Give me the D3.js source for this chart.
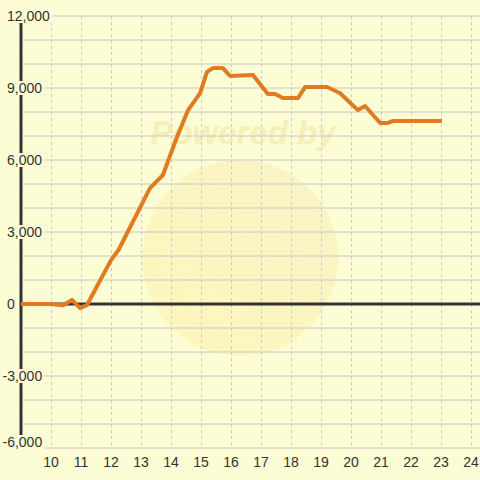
<!DOCTYPE html>
<html><head><meta charset="utf-8">
<script src="https://cdn.jsdelivr.net/npm/d3@7"></script>
<style>html,body{margin:0;padding:0;background:#fdfdd5;}svg{display:block;}</style>
</head><body>
<script>
const xValues = [9.0, 9.97, 10.4, 10.7, 10.97, 11.2, 12.0, 12.25, 13.3, 13.73, 14.2, 14.57, 14.97, 15.2, 15.4, 15.73, 15.97, 16.73, 17.23, 17.47, 17.73, 18.23, 18.47, 19.2, 19.63, 20.23, 20.47, 20.97, 21.2, 21.4, 23.03];
const yValues = [0, 0, -50, 170, -170, -40, 1830, 2250, 4830, 5375, 6960, 8080, 8790, 9670, 9830, 9830, 9500, 9540, 8750, 8750, 8580, 8580, 9040, 9040, 8790, 8080, 8250, 7540, 7540, 7625, 7625];
const xTicks = [10, 11, 12, 13, 14, 15, 16, 17, 18, 19, 20, 21, 22, 23, 24];
const yTicks = [-6000, -3000, 0, 3000, 6000, 9000, 12000];
const yGrid = d3.range(-6000, 12001, 1000);

const W = 480, H = 480;
const BG = "#fdfdd5";
const svg = d3.select("body").append("svg").attr("width", W).attr("height", H);
svg.append("rect").attr("width", W).attr("height", H).attr("fill", BG);

const x = d3.scaleLinear().domain([9, 24.3]).range([21, 480]);
const y = d3.scaleLinear().domain([-6000, 12000]).range([448, 16]);

// watermark
const defs = svg.append("defs");
const g = defs.append("linearGradient").attr("id", "wm").attr("x1", "0").attr("y1", "1").attr("x2", "1").attr("y2", "0");
g.append("stop").attr("offset", "0").attr("stop-color", "#fcee96");
g.append("stop").attr("offset", "1").attr("stop-color", "#f3e4ae");
svg.append("circle").attr("cx", 240).attr("cy", 258).attr("r", 98).attr("fill", "url(#wm)").attr("opacity", 0.4);
svg.append("text").attr("x", 243).attr("y", 144).attr("text-anchor", "middle")
  .attr("font-family", "Liberation Sans, Arial, sans-serif").attr("font-size", 33)
  .attr("font-weight", "bold").attr("font-style", "italic").attr("fill", "#f3e6a6").attr("opacity", 0.6)
  .text("Powered by");

// horizontal grid
svg.append("g").selectAll("line").data(yGrid).join("line")
  .attr("x1", 21).attr("x2", 480).attr("y1", d => y(d)).attr("y2", d => y(d))
  .attr("stroke", "#c8c8c8").attr("stroke-width", 1);
// vertical dashed grid
svg.append("g").selectAll("line").data(xTicks).join("line")
  .attr("x1", d => Math.round(x(d)) + 0.5).attr("x2", d => Math.round(x(d)) + 0.5)
  .attr("y1", 16).attr("y2", 448)
  .attr("stroke", "#cbcbcb").attr("stroke-width", 1).attr("stroke-dasharray", "3,3");

// axes lines
svg.append("line").attr("x1", 21).attr("x2", 21).attr("y1", 16).attr("y2", 448).attr("stroke", "#333").attr("stroke-width", 3);
svg.append("line").attr("x1", 21).attr("x2", 480).attr("y1", y(0)).attr("y2", y(0)).attr("stroke", "#333").attr("stroke-width", 3);

// y labels with background
const fmt = d => d3.format(",")(d).replace("\u2212", "-");
const yl = svg.append("g").selectAll("g").data(yTicks).join("g");
yl.append("text").attr("x", d => d < 0 ? 2.5 : 7).attr("y", d => Math.min(y(d) + 5, 447))
  .attr("font-family", "Liberation Sans, Arial, sans-serif").attr("font-size", 14).attr("fill", "#333")
  .text(d => fmt(d));
yl.each(function() {
  const t = d3.select(this).select("text");
  const b = t.node().getBBox();
  d3.select(this).insert("rect", "text").attr("x", b.x - 1).attr("y", b.y + 1).attr("width", b.width + 3).attr("height", b.height - 2).attr("fill", BG);
});

// x labels
svg.append("g").selectAll("text").data(xTicks).join("text")
  .attr("x", d => x(d)).attr("y", 467).attr("text-anchor", "middle")
  .attr("font-family", "Liberation Sans, Arial, sans-serif").attr("font-size", 14).attr("fill", "#333")
  .text(d => d);

// line
const data = xValues.map((v, i) => [v, yValues[i]]);
svg.append("path").datum(data)
  .attr("d", d3.line().x(d => x(d[0])).y(d => y(d[1])))
  .attr("fill", "none").attr("stroke", "#e07b22").attr("stroke-width", 4).attr("stroke-linejoin", "round");
</script>
</body></html>
